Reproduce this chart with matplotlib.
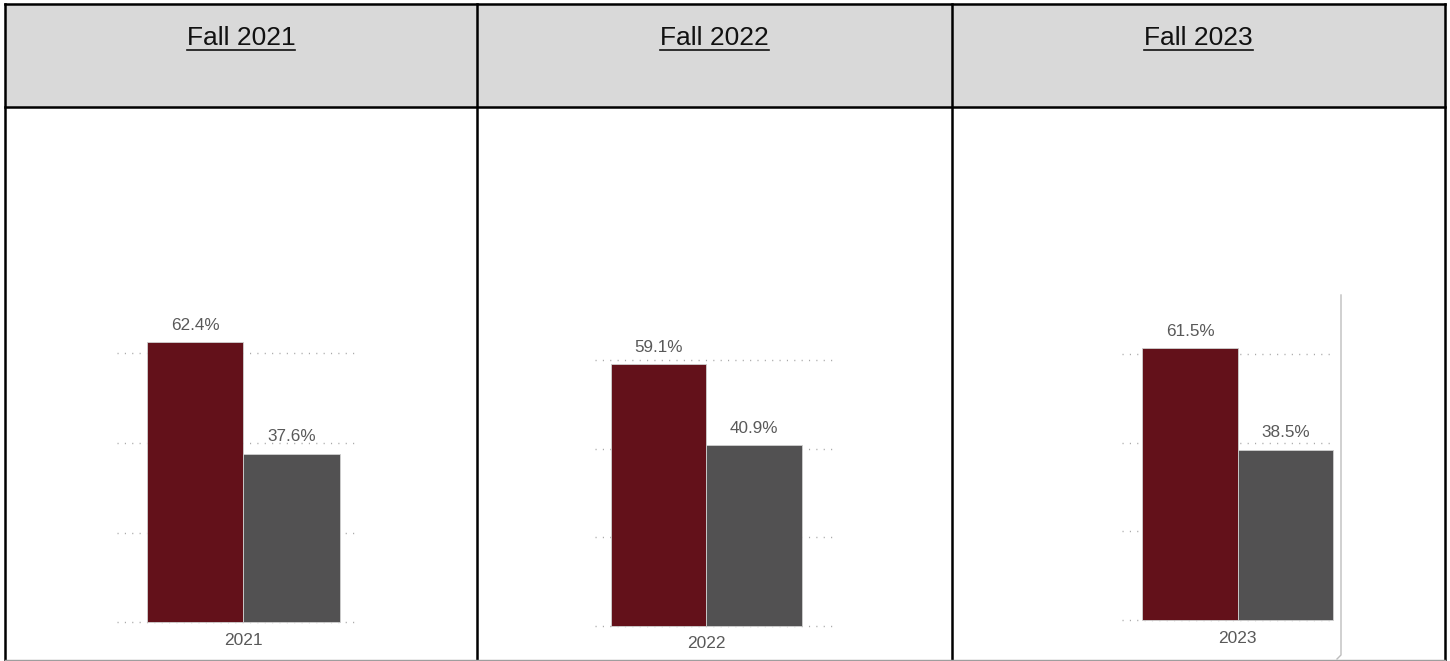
import matplotlib.pyplot as plt
from matplotlib.lines import Line2D
from matplotlib.patches import Rectangle

plt.rcParams['font.family'] = ['Liberation Sans', 'DejaVu Sans']

# data
terms = ["Fall 2021", "Fall 2022", "Fall 2023"]
years = ["2021", "2022", "2023"]
first_share = [62.4, 59.1, 61.5]   # maroon bars (%)
second_share = [37.6, 40.9, 38.5]  # gray bars (%)
grid_values = [0, 20, 40, 60]

# colours
maroon = "#63111a"
dark_gray = "#525152"
label_color = "#595959"

W, H = 1450, 661

def fx(x):
    return x / W

def fy(y):
    return 1 - y / H

# layout of each chart cell in pixels: grid left, grid right, baseline, px per %, group centre, bar width
panels = [
    (116.7, 356.7, 622.3, 4.487, 243.3, 96.5),
    (595.0, 831.7, 625.7, 4.423, 706.0, 95.5),
    (1121.7, 1333.3, 620.0, 4.428, 1237.7, 95.5),
]
col_edges = [5, 477, 952, 1445]
top, header_bottom, bottom = 4, 107, 660

fig = plt.figure(figsize=(W / 100, H / 100), dpi=100)

# header fill
fig.add_artist(Rectangle((fx(col_edges[0]), fy(header_bottom)),
                         fx(col_edges[-1] - col_edges[0]), (header_bottom - top) / H,
                         transform=fig.transFigure, facecolor="#d9d9d9", edgecolor="none", zorder=0))

# bar charts
for i, (gl, gr, base, ppu, cx, bw) in enumerate(panels):
    ax = fig.add_axes([fx(gl), fy(base), (gr - gl) / W, 100 * ppu / H])
    ax.set_xlim((gl - cx) / bw, (gr - cx) / bw)
    ax.set_ylim(0, 100)
    ax.axis("off")
    for g in grid_values:
        ax.axhline(g, color="#a8a8a8", lw=1.0, linestyle=(0, (0.8, 4.5)), zorder=0, clip_on=False)
    vals = [first_share[i], second_share[i]]
    xs = [-0.5, 0.5]
    ax.bar(xs, vals, width=1.0, color=[maroon, dark_gray], edgecolor="#d0d0d0",
           linewidth=0.6, zorder=2, clip_on=False)
    for x, v in zip(xs, vals):
        ax.annotate(f"{v}%", (x, v), xytext=(0, 12), textcoords="offset points",
                    ha="center", va="center", fontsize=12.3, color=label_color)
    ax.annotate(years[i], (0, 0), xytext=(0, -13), textcoords="offset points",
                ha="center", va="center", fontsize=12.5, color=label_color)

# header titles
titles = []
for i, term in enumerate(terms):
    cx = (col_edges[i] + col_edges[i + 1]) / 2
    t = fig.text(fx(cx), fy(45), term, ha="center", va="baseline",
                 fontsize=19, color="#111111")
    titles.append(t)

fig.canvas.draw()
renderer = fig.canvas.get_renderer()
for t in titles:
    bb = t.get_window_extent(renderer)
    fig.add_artist(Line2D([bb.x0 / W, bb.x1 / W], [fy(49.5), fy(49.5)],
                          transform=fig.transFigure, color="#111111", lw=1.2))

# table lines
lk = dict(transform=fig.transFigure, color="black", lw=1.8, solid_capstyle="projecting")
fig.add_artist(Line2D([fx(col_edges[0]), fx(col_edges[-1])], [fy(top), fy(top)], **lk))
fig.add_artist(Line2D([fx(col_edges[0]), fx(col_edges[-1])], [fy(header_bottom), fy(header_bottom)], **lk))
for x in col_edges:
    fig.add_artist(Line2D([fx(x), fx(x)], [fy(top), fy(bottom)], **lk))
fig.add_artist(Line2D([fx(col_edges[0]), fx(col_edges[-1])], [fy(bottom), fy(bottom)],
                      transform=fig.transFigure, color="#9e9e9e", lw=1.0))

# frame edge of the 2023 chart image
fig.add_artist(Line2D([fx(1341), fx(1341), fx(1337)], [fy(295), fy(655), fy(659)],
                      transform=fig.transFigure, color="#bdbdbd", lw=1.0))

fig.savefig("out.png", dpi=100)
